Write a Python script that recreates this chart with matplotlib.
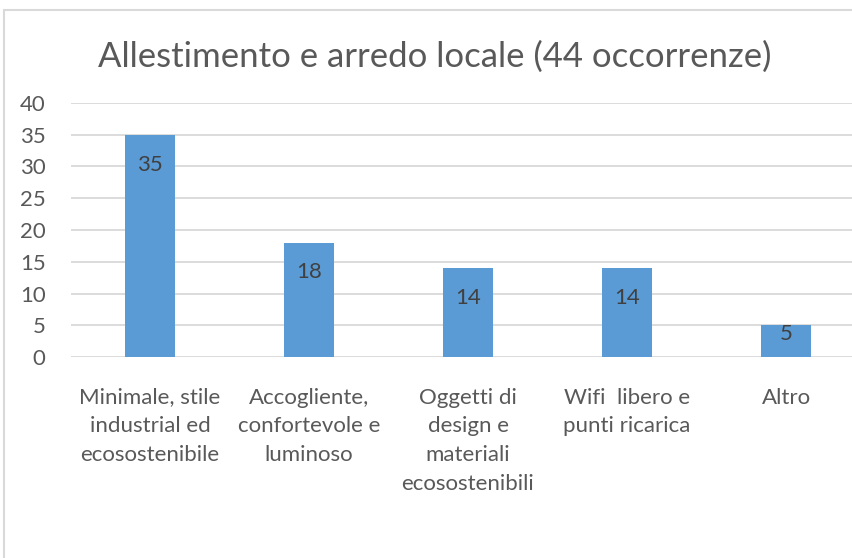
import matplotlib
matplotlib.use("Agg")
import matplotlib.pyplot as plt
from matplotlib.patches import Rectangle

categories = ["Minimale, stile\nindustrial ed\necosostenibile",
              "Accogliente,\nconfortevole e\nluminoso",
              "Oggetti di\ndesign e\nmateriali\necosostenibili",
              "Wifi  libero e\npunti ricarica",
              "Altro"]
values = [35, 18, 14, 14, 5]
yticks = [0, 5, 10, 15, 20, 25, 30, 35, 40]
title = "Allestimento e arredo locale (44 occorrenze)"

plt.rcParams['font.family'] = ['Lato', 'DejaVu Sans']
W, H = 852, 558
fig = plt.figure(figsize=(W/100, H/100), dpi=100)
# border (left/top visible)
fig.patches.append(Rectangle((4/W, -0.1), 1.2, (H-10)/H + 0.1, transform=fig.transFigure,
                             fill=False, edgecolor="#d9d9d9", linewidth=1.5))

left, right = 70.5, 865.5
top, bottom = 103, 357
ax = fig.add_axes([left/W, 1-bottom/H, (right-left)/W, (bottom-top)/H])
x = range(len(values))
bars = ax.bar(x, values, width=0.31, color="#5b9bd5", zorder=3)
ax.set_xlim(-0.5, len(values)-0.5)
ax.set_ylim(0, 40)
ax.set_yticks(yticks)
ax.set_yticklabels([str(t) for t in yticks], fontsize=16, color="#595959")
ax.set_xticks(list(x))
ax.set_xticklabels(categories, fontsize=16, color="#595959", linespacing=1.55, va="top")
ax.tick_params(axis="both", length=0)
ax.tick_params(axis="y", pad=18)
ax.tick_params(axis="x", pad=22)
ax.grid(axis="y", color="#d9d9d9", linewidth=1.3, zorder=0)
for s in ax.spines.values():
    s.set_visible(False)
for b, v in zip(bars, values):
    off = 20 if v > 8 else 5
    ax.annotate(str(v), (b.get_x()+b.get_width()/2, v), xytext=(0, -off),
                textcoords="offset points", ha="center", va="center_baseline",
                fontsize=16, color="#404040", zorder=4)
fig.text(435/W, 1-57/H, title, ha="center", va="center", fontsize=25, color="#595959")
fig.savefig("out.png", dpi=100)
